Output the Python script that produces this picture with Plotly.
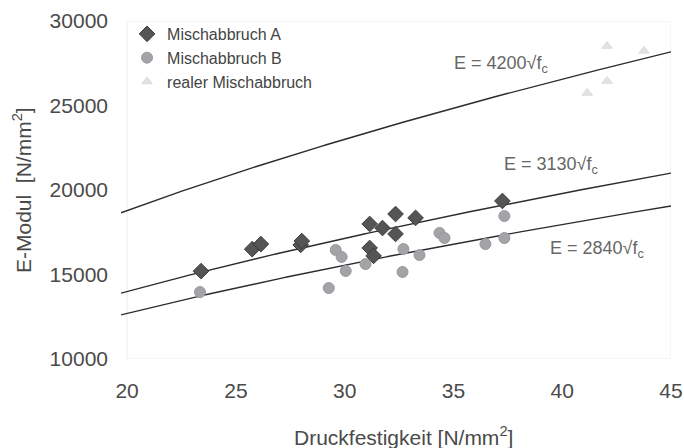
import numpy as np
import plotly.graph_objects as go

# --- data ---
fc_A = [23.4, 25.75, 26.15, 27.98, 28.03, 31.15, 31.15, 31.33, 31.74, 32.34, 32.34, 33.26, 37.25]
E_A = [15200, 16500, 16800, 16750, 16980, 17990, 16570, 16100, 17750, 18580, 17400, 18350, 19350]

fc_B = [23.35, 29.27, 29.59, 29.86, 30.05, 30.96, 32.66, 32.7, 33.44, 34.36, 34.59, 36.47, 37.34, 37.34]
E_B = [13960, 14200, 16450, 16040, 15210, 15620, 15150, 16510, 16150, 17460, 17160, 16800, 18460, 17160]

fc_real = [41.15, 42.06, 42.06, 43.76]
E_real = [25740, 26450, 28520, 28230]

coeffs = [4200, 3130, 2840]
coeff_labels = ["E = 4200√f<sub>c</sub>", "E = 3130√f<sub>c</sub>", "E = 2840√f<sub>c</sub>"]
label_pos_fc = [37.2, 39.5, 41.6]
label_pos_E = [27450, 21450, 16450]

x_ticks = [20, 25, 30, 35, 40, 45]
y_ticks = [10000, 15000, 20000, 25000, 30000]

fc_curve = np.linspace(19.72, 45, 200)

fig = go.Figure()

for k in coeffs:
    fig.add_trace(go.Scatter(x=fc_curve, y=k * np.sqrt(fc_curve), mode="lines",
                             line=dict(color="#2b2b2b", width=1.4),
                             showlegend=False, hoverinfo="skip"))

fig.add_trace(go.Scatter(x=fc_A, y=E_A, mode="markers", name="Mischabbruch A",
                         marker=dict(symbol="diamond", size=12, color="#555555",
                                     line=dict(color="#3a3a3a", width=1))))
fig.add_trace(go.Scatter(x=fc_B, y=E_B, mode="markers", name="Mischabbruch B",
                         marker=dict(symbol="circle", size=11, color="#a3a3a8",
                                     line=dict(color="#9a9a9e", width=1))))
fig.add_trace(go.Scatter(x=fc_real, y=E_real, mode="markers", name="realer Mischabbruch",
                         marker=dict(symbol="triangle-up", size=9, color="#e2e2e2",
                                     line=dict(color="#dcdcdc", width=1))))

for txt, xx, yy in zip(coeff_labels, label_pos_fc, label_pos_E):
    fig.add_annotation(x=xx, y=yy, text=txt, showarrow=False, xanchor="center",
                       font=dict(size=18, color="#666666"))

# axis titles
fig.add_annotation(xref="paper", yref="paper", x=-0.18, y=0.5, text="E-Modul  [N/mm<sup>2</sup>]",
                   textangle=-90, showarrow=False, xanchor="center", yanchor="middle",
                   font=dict(size=21, color="#4a4a4a"))
fig.add_annotation(xref="paper", yref="paper", x=0.513, y=-0.228, text="Druckfestigkeit [N/mm<sup>2</sup>]",
                   showarrow=False, xanchor="center", yanchor="middle",
                   font=dict(size=21, color="#4a4a4a"))

# faint frame around the plot area
fig.add_shape(type="rect", x0=20, x1=45, y0=10000, y1=30000, xref="x", yref="y",
              line=dict(color="#ececec", width=1), layer="below")

font_family = "Liberation Sans, Arial, sans-serif"

fig.update_layout(
    width=684, height=448,
    margin=dict(l=121, r=13, t=21, b=89),
    paper_bgcolor="white", plot_bgcolor="white",
    font=dict(family=font_family, color="#444444"),
    showlegend=True,
    legend=dict(x=0.011, y=1.012, xanchor="left", yanchor="top", bgcolor="rgba(0,0,0,0)",
                font=dict(size=16, color="#444444"), tracegroupgap=0,
                itemwidth=30),
    xaxis=dict(range=[19.72, 45], tickvals=x_ticks, tickformat="d", showgrid=False, zeroline=False,
               showline=False, ticks="", tickfont=dict(size=21, color="#4a4a4a"),
               ticklabelstandoff=17, automargin=False),
    yaxis=dict(range=[10000, 30000], tickvals=y_ticks, tickformat="d", showgrid=False, zeroline=False,
               showline=False, ticks="", tickfont=dict(size=21, color="#4a4a4a"),
               ticklabelstandoff=12, automargin=False),
)

fig.write_html("out.html", config={"displayModeBar": False},
               post_script="document.body.style.margin='0';")
